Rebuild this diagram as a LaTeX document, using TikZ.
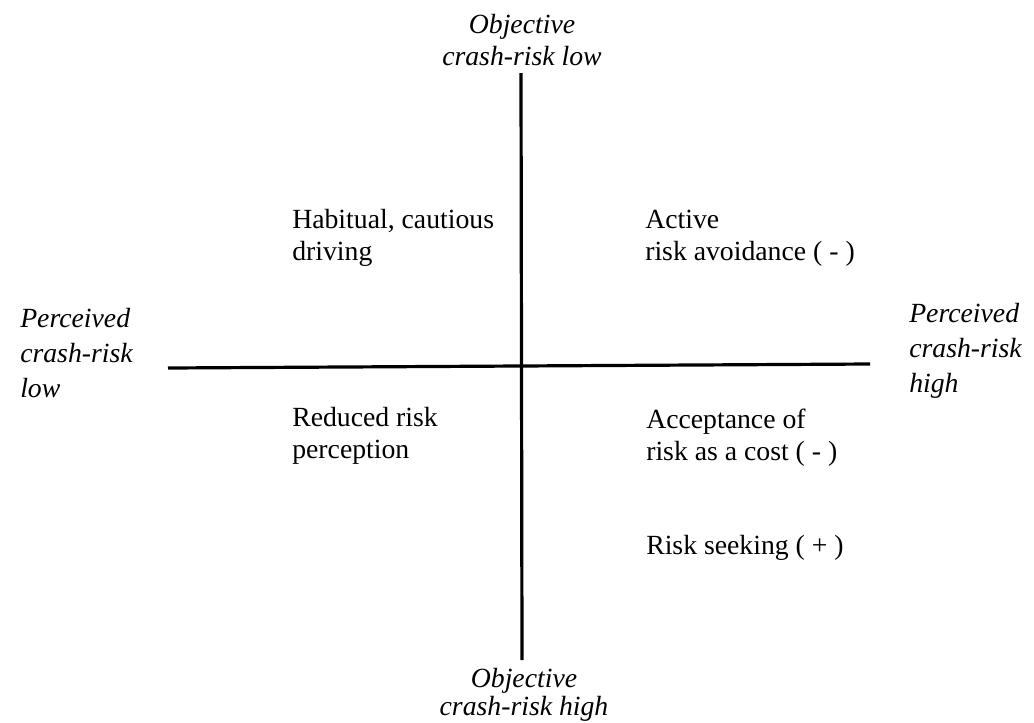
\documentclass[tikz,border=0pt]{standalone}
\usepackage{fontspec}
\setmainfont{Liberation Serif}
\begin{document}
\begin{tikzpicture}[x=0.75pt,y=-0.75pt,
    txt/.style={inner sep=0pt,align=left,anchor=base west,font=\fontsize{20.8}{23.5}\selectfont},
    ax/.style={txt,font=\fontsize{20.8}{26}\selectfont\itshape},
    axline/.style={line width=2.4pt}]
	\useasboundingbox (0,0) rectangle (1034,722);
	\coordinate (n) at (521,73);
	\coordinate (s) at (522,660);
	\coordinate (w) at (168,368);
	\coordinate (e) at (870,364);
	\draw[axline](w)--(e);
	\draw[axline](n)--(s);
	\node[ax,align=center,anchor=base,font=\fontsize{20.8}{24}\selectfont\itshape] (objlow) at (522,65) {Objective\\crash-risk low};
	\node[ax,align=center,anchor=base,font=\fontsize{20.8}{21}\selectfont\itshape] (objhigh) at (524,715) {Objective\\crash-risk high};
	\node[ax] (perclow) at (20,397) {Perceived\\crash-risk\\low};
	\node[ax] (perchigh) at (909,392) {Perceived\\crash-risk\\high};
	\node[txt] (habit) at (292,260) {Habitual, cautious\\driving};
	\node[txt] (avoid) at (645,260) {Active\\risk avoidance ( - )};
	\node[txt] (reduced) at (292,458) {Reduced risk\\perception};
	\node[txt] (cost) at (646,460) {Acceptance of\\risk as a cost ( - )};
	\node[txt] (seek) at (646,554) {Risk seeking ( + )};
\end{tikzpicture}
\end{document}
